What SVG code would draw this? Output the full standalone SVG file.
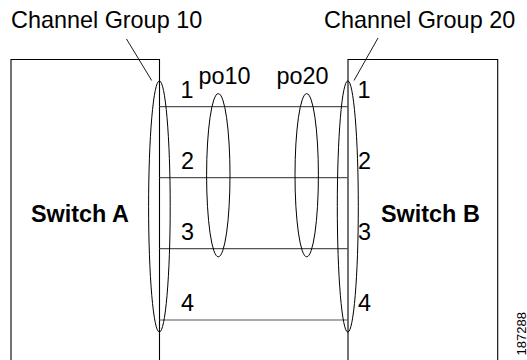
<svg xmlns="http://www.w3.org/2000/svg" width="527" height="360" viewBox="0 0 527 360">
<style>
text{font-family:"Liberation Sans",Arial,sans-serif;fill:#000}
.lbl{font-size:23.4px}
.sw{font-size:23.4px;font-weight:bold}
.box{fill:none;stroke:#000;stroke-width:1.1}
.link{fill:none;stroke:#555;stroke-width:1.2}
.ell{fill:none;stroke:#000;stroke-width:1}
.lead{fill:none;stroke:#000;stroke-width:0.9}
</style>
<rect width="527" height="360" fill="#fff"/>
<g id="switch-a">
<path class="box" d="M11,365 V59.5 H159.5 V365"/>
<text class="sw" x="31" y="221.7">Switch A</text>
<text class="lbl" x="180.5" y="98">1</text>
<text class="lbl" x="181" y="169">2</text>
<text class="lbl" x="181" y="240">3</text>
<text class="lbl" x="181" y="311">4</text>
</g>
<g id="switch-b">
<path class="box" d="M348,365 V59.5 H497.7 V365"/>
<text class="sw" x="381" y="221.7">Switch B</text>
<text class="lbl" x="357.5" y="98">1</text>
<text class="lbl" x="358" y="169">2</text>
<text class="lbl" x="358" y="240">3</text>
<text class="lbl" x="358" y="311">4</text>
</g>
<g id="connectors">
<line class="link" x1="159.5" y1="106.7" x2="348" y2="106.7"/>
<line class="link" x1="159.5" y1="177.7" x2="348" y2="177.7"/>
<line class="link" x1="159.5" y1="248.7" x2="348" y2="248.7"/>
<line class="link" x1="159.5" y1="320" x2="348" y2="320"/>
</g>
<g id="channel-group-10">
<ellipse class="ell" cx="159.4" cy="206.5" rx="10.8" ry="125.6"/>
<line class="lead" x1="126.5" y1="39" x2="151.7" y2="80.5"/>
<text class="lbl" x="11" y="28">Channel Group 10</text>
</g>
<g id="channel-group-20">
<ellipse class="ell" cx="347.8" cy="206.5" rx="10.5" ry="125.6"/>
<line class="lead" x1="378" y1="38" x2="354" y2="80.5"/>
<text class="lbl" x="324" y="28">Channel Group 20</text>
</g>
<g id="po10">
<ellipse class="ell" cx="218.3" cy="175.2" rx="11.7" ry="81.6"/>
<text class="lbl" x="198.5" y="84">po10</text>
</g>
<g id="po20">
<ellipse class="ell" cx="306.7" cy="175.2" rx="11.7" ry="81.6"/>
<text class="lbl" x="276.5" y="84">po20</text>
</g>
<text transform="translate(525.5,312) rotate(-90)" text-anchor="end" font-size="13">187288</text>
</svg>
